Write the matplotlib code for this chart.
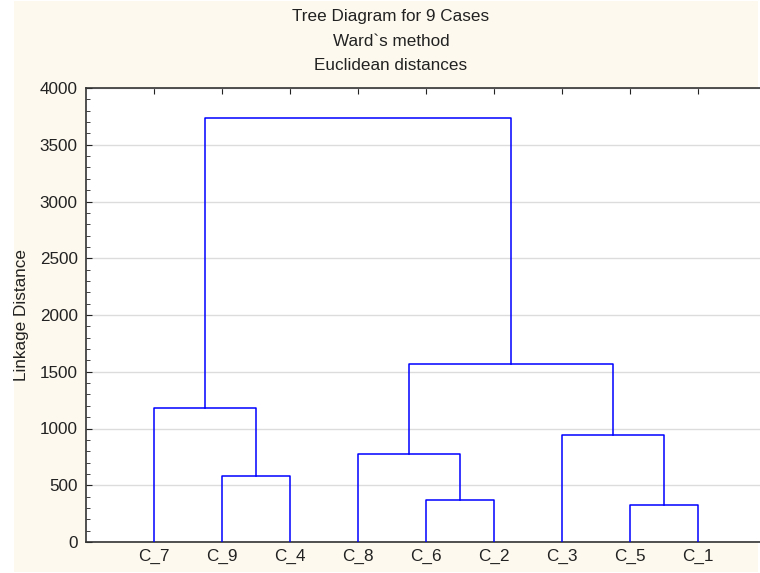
import matplotlib.pyplot as plt
from matplotlib.patches import Rectangle
from matplotlib.ticker import MultipleLocator

plt.rcParams['font.family'] = ['Liberation Sans', 'DejaVu Sans']

# leaf order along the x axis
leaves = ['C_7', 'C_9', 'C_4', 'C_8', 'C_6', 'C_2', 'C_3', 'C_5', 'C_1']
# merges: (left cluster, right cluster, linkage distance)
merge_left = ['C_9', 'C_7', 'C_6', 'C_8', 'C_5', 'C_3', 'G3', 'G1']
merge_right = ['C_4', 'G0', 'C_2', 'G2', 'C_1', 'G4', 'G5', 'G6']
merge_height = [581, 1181, 370, 773, 329, 943, 1568, 3736]

bg = '#fdf9ee'
txt = '#222222'
fs = 12.3
fig = plt.figure(figsize=(7.6, 5.73), dpi=100, facecolor='white')
# cream panel behind everything, leaving a thin white edge
fig.patches.append(Rectangle((14/760, 1/573), (758-14)/760, (572-1)/573,
                             transform=fig.transFigure, facecolor=bg, edgecolor='none', zorder=-1))

ax = fig.add_axes([86/760, 1-542/573, 1-86/760, (542-88)/573])
ax.set_facecolor('white')

pos = {name: i+1 for i, name in enumerate(leaves)}
hgt = {name: 0 for name in leaves}
for i in range(len(merge_height)):
    a, b, h = merge_left[i], merge_right[i], merge_height[i]
    xa, xb = pos[a], pos[b]
    ax.plot([xa, xa, xb, xb], [hgt[a], h, h, hgt[b]], color='#0000ff', lw=1.1, zorder=3)
    pos['G%d' % i] = (xa + xb) / 2
    hgt['G%d' % i] = h

ax.set_xlim(0, 9.91)
ax.set_ylim(0, 4000)
ax.set_xticks(range(1, len(leaves)+1))
ax.set_xticklabels(leaves)
ax.yaxis.set_major_locator(MultipleLocator(500))
ax.yaxis.set_minor_locator(MultipleLocator(100))
ax.grid(axis='y', color='#dcdcdc', lw=1, zorder=0)
ax.tick_params(axis='y', which='both', direction='in', labelsize=fs, colors=txt)
ax.tick_params(axis='y', which='major', length=4, pad=6)
ax.tick_params(axis='y', which='minor', length=3)
ax.tick_params(axis='x', direction='in', top=True, bottom=False, length=4, labelsize=fs, pad=5, colors=txt)
for s in ['left', 'bottom', 'top']:
    ax.spines[s].set_color('#333333')
    ax.spines[s].set_linewidth(1.2)
ax.spines['right'].set_visible(False)

ax.set_ylabel('Linkage Distance', fontsize=fs, color=txt)
ax.yaxis.set_label_coords(-0.084, 0.5)

fig.text(391/760, 1-17/573, 'Tree Diagram for 9 Cases', ha='center', va='center', fontsize=fs, color=txt)
fig.text(391/760, 1-41/573, 'Ward`s method', ha='center', va='center', fontsize=fs, color=txt)
fig.text(391/760, 1-65/573, 'Euclidean distances', ha='center', va='center', fontsize=fs, color=txt)

fig.savefig('out.png', dpi=100, facecolor='white')
